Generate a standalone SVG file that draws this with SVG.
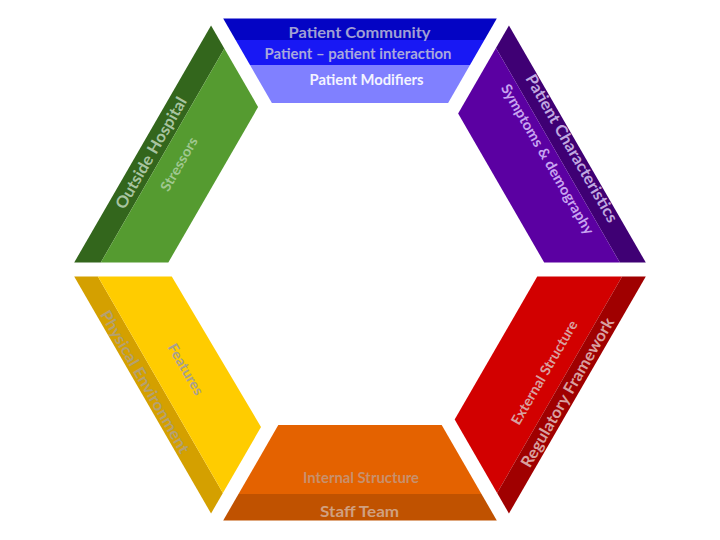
<svg xmlns="http://www.w3.org/2000/svg" width="720" height="540" viewBox="0 0 720 540">
<style>
text{font-family:Lato,"Open Sans","Liberation Sans",sans-serif;font-weight:bold;}
.c{text-anchor:middle;}
</style>
<rect width="720" height="540" fill="#ffffff"/>
<g id="patient-community">
<polygon points="223.2,18.5 496.8,18.5 484.4,40 235.6,40" fill="#0404C4"/>
<polygon points="235.6,40 484.4,40 470,65 250,65" fill="#1818F4"/>
<polygon points="250,65 470,65 448.1,103 271.9,103" fill="#8080FF"/>
<text class="c" x="359.5" y="38" font-size="16" fill="#A0A0D4" textLength="142" lengthAdjust="spacingAndGlyphs">Patient Community</text>
<text class="c" x="358" y="58.5" font-size="14.5" fill="#A8A8DC" textLength="187" lengthAdjust="spacingAndGlyphs">Patient – patient interaction</text>
<text class="c" x="366.5" y="85" font-size="14.5" fill="#F4F4FF" textLength="114" lengthAdjust="spacingAndGlyphs">Patient Modifiers</text>
</g>
<g id="outside-hospital">
<polygon points="211.05,25.5 224.33,48.5 100.77,262.5 74.2,262.5" fill="#33661C"/>
<polygon points="224.33,48.5 258.1,107 168.32,262.5 100.77,262.5" fill="#559B30"/>
<text class="c" transform="translate(151,153) rotate(-60)" y="5.5" font-size="16" fill="#A8C4A0" textLength="126" lengthAdjust="spacingAndGlyphs">Outside Hospital</text>
<text class="c" transform="translate(179,164) rotate(-60)" y="5" font-size="14" fill="#A0C890" textLength="60" lengthAdjust="spacingAndGlyphs">Stressors</text>
</g>
<g id="patient-characteristics">
<polygon points="508.95,25.5 645.8,262.5 619.8,262.5 495.95,48" fill="#3F0074"/>
<polygon points="495.95,48 619.8,262.5 544.18,262.5 458.14,113.5" fill="#5B00A2"/>
<text class="c" transform="translate(571.7,148.3) rotate(60)" y="5.5" font-size="16" fill="#C0A8E0" textLength="168" lengthAdjust="spacingAndGlyphs">Patient Characteristics</text>
<text class="c" transform="translate(547.5,159.2) rotate(60)" y="5" font-size="14.5" fill="#C8A4F0" textLength="171" lengthAdjust="spacingAndGlyphs">Symptoms &amp; demography</text>
</g>
<g id="physical-environment">
<polygon points="74.2,276.5 97.89,276.5 222.89,493 211.05,513.5" fill="#D4A000"/>
<polygon points="97.89,276.5 171.78,276.5 261,427 222.89,493" fill="#FFCC00"/>
<text class="c" transform="translate(145,381.7) rotate(60)" y="5.5" font-size="15.5" fill="#B4A070" textLength="162" lengthAdjust="spacingAndGlyphs">Physical Environment</text>
<text class="c" transform="translate(185.8,369.2) rotate(60)" y="5" font-size="14" fill="#A8A090" textLength="57" lengthAdjust="spacingAndGlyphs">Features</text>
</g>
<g id="regulatory-framework">
<polygon points="537.25,276.5 622.1,276.5 497.1,493 454.67,419.5" fill="#D20000"/>
<polygon points="622.1,276.5 645.8,276.5 508.95,513.5 497.1,493" fill="#A00000"/>
<text class="c" transform="translate(567.5,392.5) rotate(-60)" y="5.5" font-size="16" fill="#D8A0A0" textLength="170" lengthAdjust="spacingAndGlyphs">Regulatory Framework</text>
<text class="c" transform="translate(544.2,372.5) rotate(-60)" y="5" font-size="14" fill="#D8A0A0" textLength="118" lengthAdjust="spacingAndGlyphs">External Structure</text>
</g>
<g id="staff-team">
<polygon points="278.3,425 441.7,425 481.5,494 238.5,494" fill="#E46200"/>
<polygon points="238.5,494 481.5,494 496.8,520.5 223.2,520.5" fill="#C05200"/>
<text class="c" x="361" y="483.3" font-size="14.5" fill="#C8906C" textLength="116" lengthAdjust="spacingAndGlyphs">Internal Structure</text>
<text class="c" x="359.6" y="516.7" font-size="16" fill="#D0A080" textLength="79" lengthAdjust="spacingAndGlyphs">Staff Team</text>
</g>
</svg>
